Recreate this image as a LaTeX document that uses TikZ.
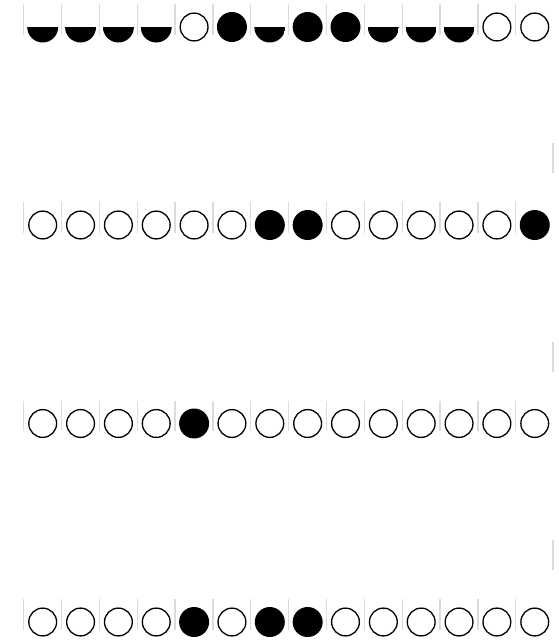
\documentclass[tikz,border=0pt]{standalone}
\usetikzlibrary{positioning}

\tikzset{
  bead/.style={circle, inner sep=0pt},
  openbead/.style={bead, draw=black, line width=1.3pt, minimum size=27.8pt},
  fullbead/.style={bead, fill=black, minimum size=30pt},
  halfbead/.style={bead, minimum size=31pt,
    path picture={\fill[black] (path picture bounding box.west)
      rectangle (path picture bounding box.south east);}},
  sep/.style={draw=black!14, line width=1.3pt},
}

\begin{document}
\begin{tikzpicture}[x=1pt, y=-1pt]
  \useasboundingbox (0,0) rectangle (558,643);

  % ────────────────────────────────────────────────────────────────────
  % four rows of 14 beads, separated by thin grey bars
  % ────────────────────────────────────────────────────────────────────
  \foreach \row/\yc/\beads in {
      1/27/{halfbead,halfbead,halfbead,halfbead,openbead,fullbead,halfbead,fullbead,fullbead,halfbead,halfbead,halfbead,openbead,openbead},
      2/225/{openbead,openbead,openbead,openbead,openbead,openbead,fullbead,fullbead,openbead,openbead,openbead,openbead,openbead,fullbead},
      3/423.5/{openbead,openbead,openbead,openbead,fullbead,openbead,openbead,openbead,openbead,openbead,openbead,openbead,openbead,openbead},
      4/622/{openbead,openbead,openbead,openbead,fullbead,openbead,fullbead,fullbead,openbead,openbead,openbead,openbead,openbead,openbead}} {

    % separator bars
    \foreach \i in {0,...,13}
      \draw[sep] ({23.7+37.85*\i},\yc-23) -- ++(0,30.5);

    % beads
    \foreach \s [count=\i] in \beads
      \node[\s] (r\row c\i) at ({42.7+37.85*(\i-1)},\yc) {};
  }

  % lone bars at the right edge, above rows 2--4
  \foreach \yc in {225,423.5,622}
    \draw[sep] (553,\yc-82) -- ++(0,30);

\end{tikzpicture}
\end{document}
